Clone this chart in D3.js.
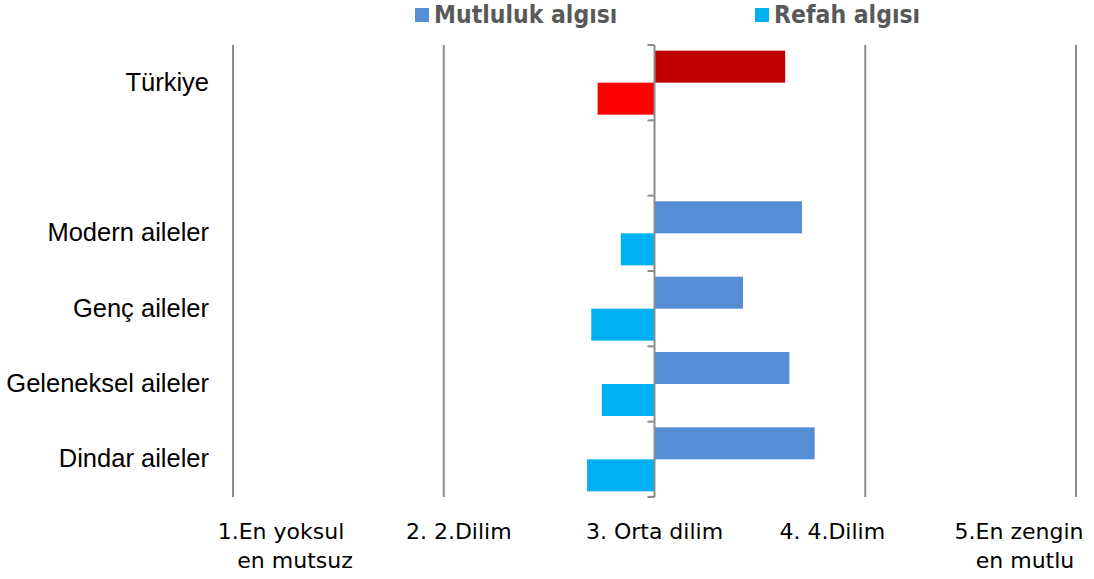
<!DOCTYPE html>
<html>
<head>
<meta charset="utf-8">
<script src="https://cdn.jsdelivr.net/npm/d3@7"></script>
<style>
  body { margin: 0; background: #fff; }
  .cat { font-family: "Liberation Sans", Arial, sans-serif; font-size: 25.5px; fill: #000; }
  .tick-lbl { font-family: "DejaVu Sans", sans-serif; font-size: 22px; fill: #000; }
  .leg { font-family: "DejaVu Sans Condensed", "DejaVu Sans", sans-serif; font-weight: bold; font-size: 24.5px; fill: #595959; }
</style>
</head>
<body>
<div id="chart"></div>
<script>
var svgWidth = 1094;
var svgHeight = 579;

// data
var categories = ["Türkiye", "", "Modern aileler", "Genç aileler", "Geleneksel aileler", "Dindar aileler"];
var mutluluk = [3.62, null, 3.70, 3.42, 3.64, 3.76];
var refah = [2.73, null, 2.84, 2.70, 2.75, 2.68];
var seriesNames = ["Mutluluk algısı", "Refah algısı"];
var tickValues = [1, 2, 3, 4, 5];
var tickLine1 = ["1.En yoksul", "2. 2.Dilim", "3. Orta dilim", "4. 4.Dilim", "5.En zengin"];
var tickLine2 = ["en mutsuz", "", "", "", "en mutlu"];

// layout tweaks for the hand-placed axis labels (label centre offset from gridline)
var tickShift = [48, 15, 0, -33, -57];
var tickShift2 = [62, 0, 0, 0, -51];

var colors = {
  mutluluk: "#558ed5",
  refah: "#00b0f0",
  mutlulukTR: "#c00000",
  refahTR: "#ff0000"
};

var svg = d3.select("#chart")
  .append("svg")
  .attr("width", svgWidth)
  .attr("height", svgHeight);

var x = d3.scaleLinear().domain([1, 5]).range([233, 1076]);
var y = d3.scaleBand().domain(d3.range(categories.length)).range([45, 497]).padding(0);
var ySub = d3.scaleBand().domain([0, 1]).range([0, y.bandwidth()]).paddingOuter(0.177).paddingInner(0);

// vertical gridlines (not at the axis)
svg.append("g")
  .selectAll("line")
  .data(tickValues.filter(function(v) { return v !== 3; }))
  .enter()
  .append("line")
    .attr("x1", d => x(d))
    .attr("x2", d => x(d))
    .attr("y1", 45)
    .attr("y2", 497)
    .attr("stroke", "#8c8c8c")
    .attr("stroke-width", 2);

// rows
var rows = categories.map(function(c, i) {
  return { cat: c, i: i, m: mutluluk[i], r: refah[i] };
});

var barData = [];
rows.forEach(function(d) {
  if (d.m == null) return;
  var tr = d.i === 0;
  barData.push({ i: d.i, s: 0, v: d.m, color: tr ? colors.mutlulukTR : colors.mutluluk });
  barData.push({ i: d.i, s: 1, v: d.r, color: tr ? colors.refahTR : colors.refah });
});

svg.append("g")
  .selectAll("rect")
  .data(barData)
  .enter()
  .append("rect")
    .attr("x", d => Math.min(x(3), x(d.v)))
    .attr("width", d => Math.abs(x(d.v) - x(3)))
    .attr("y", d => y(d.i) + ySub(d.s))
    .attr("height", ySub.bandwidth())
    .attr("fill", d => d.color);

// the axis at 3 with ticks on band boundaries
var axisG = svg.append("g");
axisG.append("line")
  .attr("x1", x(3)).attr("x2", x(3))
  .attr("y1", 45).attr("y2", 497)
  .attr("stroke", "#8c8c8c")
  .attr("stroke-width", 2);
axisG.selectAll(".tk")
  .data(d3.range(categories.length + 1))
  .enter()
  .append("line")
    .attr("x1", x(3) - 7)
    .attr("x2", x(3))
    .attr("y1", d => d < categories.length ? y(d) : y(categories.length - 1) + y.bandwidth())
    .attr("y2", d => d < categories.length ? y(d) : y(categories.length - 1) + y.bandwidth())
    .attr("stroke", "#8c8c8c")
    .attr("stroke-width", 2);

// category labels
svg.append("g")
  .selectAll("text")
  .data(rows.filter(d => d.cat !== ""))
  .enter()
  .append("text")
    .attr("class", "cat")
    .attr("x", 209)
    .attr("y", d => y(d.i) + y.bandwidth() / 2 + 8)
    .attr("text-anchor", "end")
    .text(d => d.cat);

// bottom labels
var tl = svg.append("g");
tl.selectAll(".l1")
  .data(tickValues)
  .enter()
  .append("text")
    .attr("class", "tick-lbl")
    .attr("x", (d, i) => x(d) + tickShift[i])
    .attr("y", 539)
    .attr("text-anchor", "middle")
    .text((d, i) => tickLine1[i]);
tl.selectAll(".l2")
  .data(tickValues)
  .enter()
  .append("text")
    .attr("class", "tick-lbl")
    .attr("x", (d, i) => x(d) + tickShift2[i])
    .attr("y", 568)
    .attr("text-anchor", "middle")
    .text((d, i) => tickLine2[i]);

// legend
var legX = [415, 755];
var legColors = [colors.mutluluk, colors.refah];
var leg = svg.append("g")
  .selectAll("g")
  .data(seriesNames)
  .enter()
  .append("g")
    .attr("transform", (d, i) => `translate(${legX[i]}, 0)`);
leg.append("rect")
  .attr("x", 0).attr("y", 8)
  .attr("width", 14).attr("height", 14)
  .attr("fill", (d, i) => legColors[i]);
leg.append("text")
  .attr("class", "leg")
  .attr("x", 19)
  .attr("y", 23)
  .text(d => d);
</script>
</body>
</html>
